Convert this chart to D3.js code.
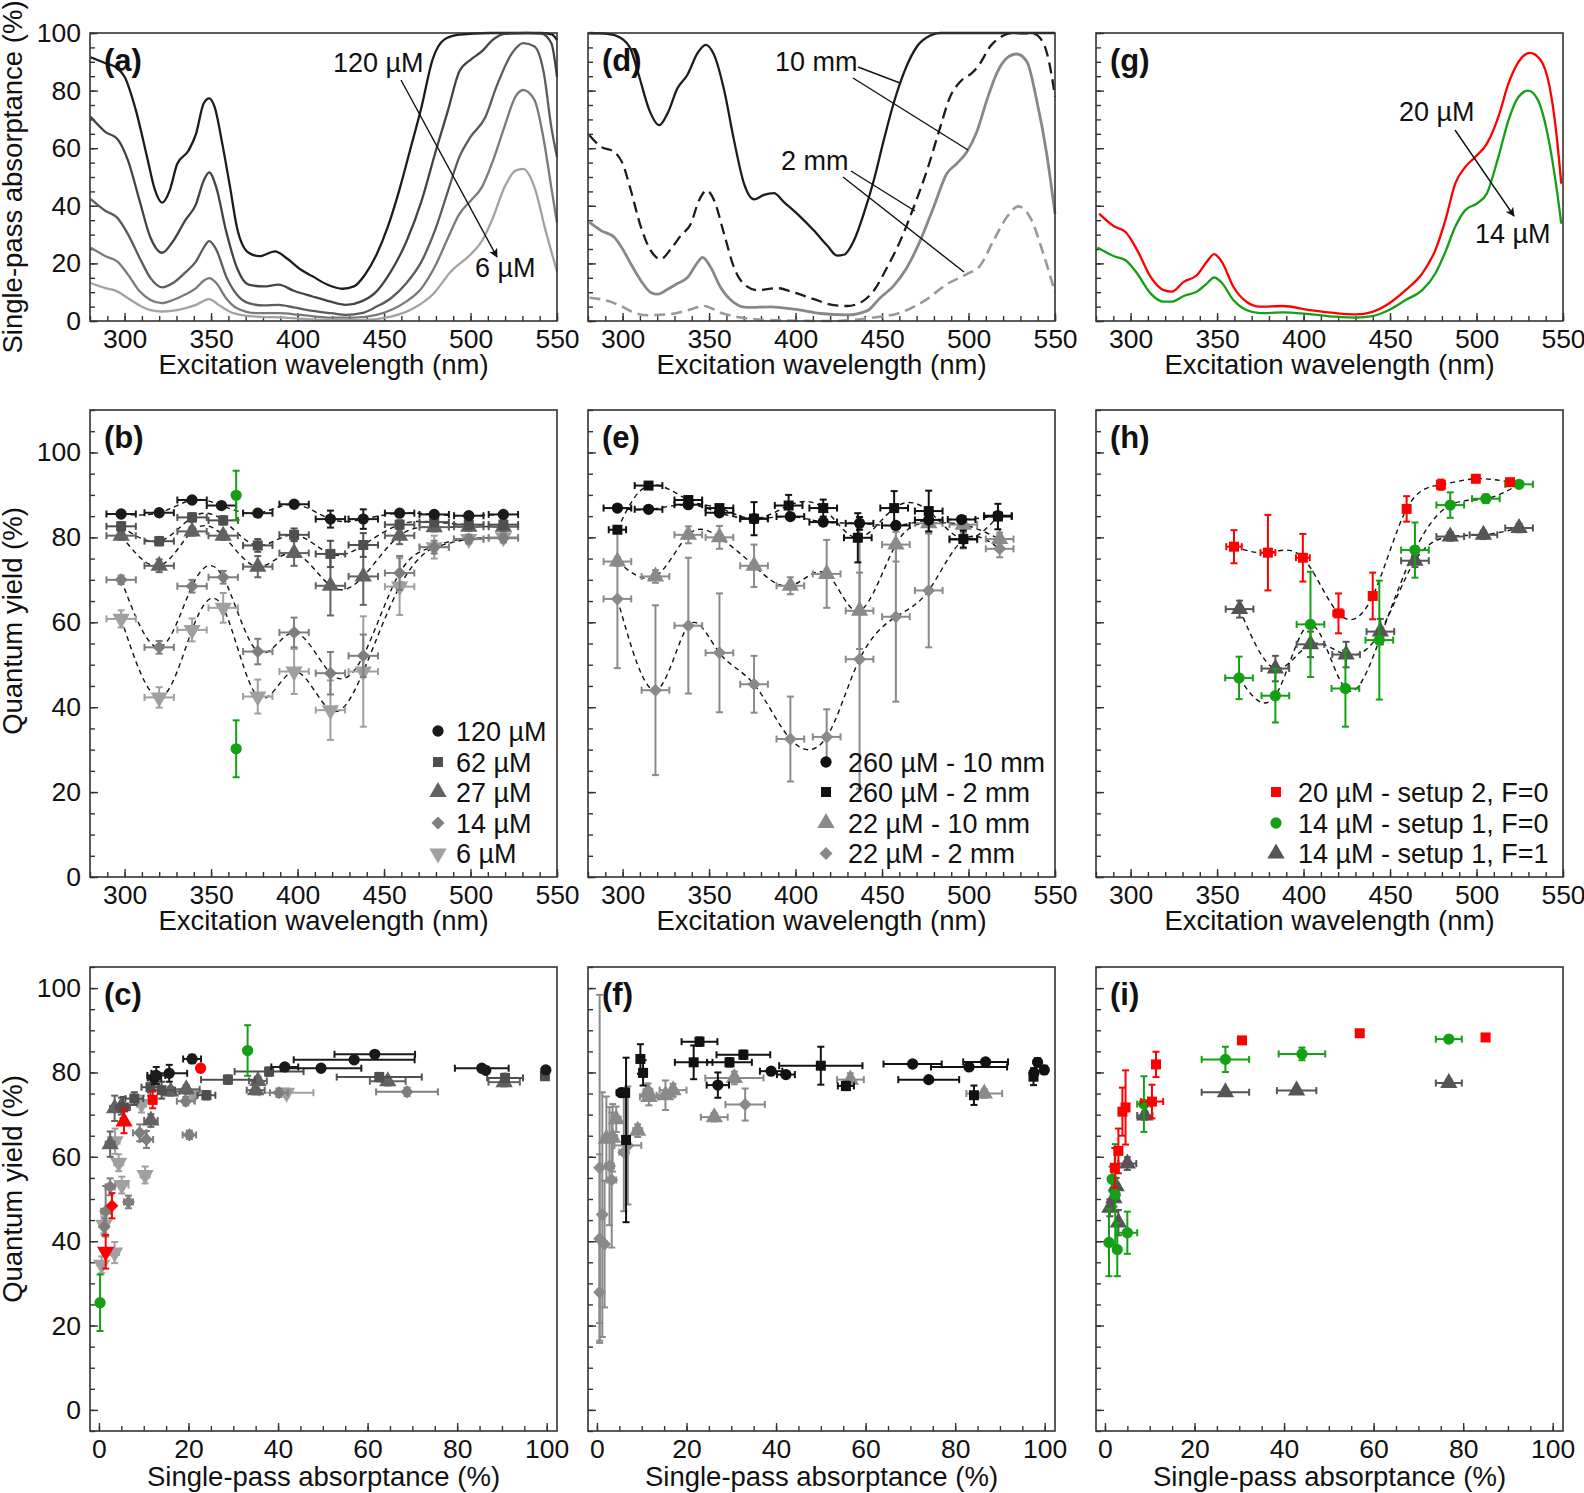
<!DOCTYPE html>
<html><head><meta charset="utf-8">
<script src="https://cdn.jsdelivr.net/npm/d3@7"></script>
<style>body{margin:0;background:#fff}svg{display:block}</style>
</head><body><svg id="c" width="1584" height="1493"></svg>
<script>
// ---------------- DATA ----------------
// ticks
const wlMajor=[300,350,400,450,500,550];
const wlMinor=[280,290,300,310,320,330,340,350,360,370,380,390,400,410,420,430,440,450,460,470,480,490,500,510,520,530,540,550];
const pctMajor=[0,20,40,60,80,100];
const absMinor=[0,5,10,15,20,25,30,35,40,45,50,55,60,65,70,75,80,85,90,95,100];
const qyMinor2=[0,5,10,15,20,25,30,35,40,45,50,55,60,65,70,75,80,85,90,95,100,105,110];
const qyMinor3=[-5,0,5,10,15,20,25,30,35,40,45,50,55,60,65,70,75,80,85,90,95,100,105];

// (a) absorptance spectra [nm, %]
const a120=[[280.4,91.6],[289,89.5],[295.7,87.8],[300,84.8],[306.5,73.2],[313,56.9],[317.4,45.8],[321.7,41.1],[326,45.2],[330.4,54.5],[337,59.2],[341.3,65.0],[345.7,75.5],[348.9,77.3],[352,74.4],[356.5,61.5],[361,46.4],[365,32.4],[371.7,23.7],[378,22.5],[387,24.2],[393.5,21.9],[402,17.8],[408.7,15.5],[417.4,12.6],[426,11.2],[432.6,12.0],[439,16.1],[445.7,23.1],[452,32.4],[458.7,45.2],[465,59.2],[471.7,74.4],[478,90.7],[484.8,97.7],[493.5,99.4],[511,100],[540,100],[547,99.5],[550,97.5]];
const a62=[[280.4,70.9],[289,65.6],[295.7,63.3],[302,55.7],[308.7,41.7],[315,28.9],[321.7,23.7],[328,27.7],[334.8,34.7],[341.3,40.6],[345.7,48.7],[348.9,51.6],[353,46.4],[358.7,31.2],[365,18.4],[371.7,12.6],[380.4,12.0],[389,12.6],[397.8,10.5],[408.7,8.5],[417.4,7.0],[428,5.6],[437,6.8],[445.7,10.3],[454,17.2],[463,27.7],[471.7,41.7],[480,59.2],[487,73.2],[493.5,86.6],[500,90.7],[506.5,93.6],[513,97.7],[519.6,99.7],[532.6,100],[541,99.8],[546.7,96.5],[550,84.8]];
const a27=[[280.4,42.3],[289,38.2],[295.7,35.9],[302,30.1],[308.7,21.9],[315,14.9],[321.7,11.7],[328,13.2],[334.8,16.7],[341.3,20.7],[345.7,25.4],[348.9,27.7],[353,24.8],[358.7,15.5],[365,9.1],[371.7,6.2],[380.4,5.4],[389,5.6],[397.8,4.7],[408.7,3.5],[419.6,2.7],[428,2.1],[437,2.7],[445.7,5.0],[454,7.9],[463,13.2],[471.7,20.7],[480,32.4],[487,45.2],[493.5,56.9],[500,63.9],[508.7,70.9],[515,81.4],[524,93.0],[530.4,96.5],[537,95.3],[542.4,86.0],[546.7,67.4],[550,56.9]];
const a14=[[280.4,25.4],[289,22.5],[295.7,20.7],[302,16.1],[308.7,10.3],[315,7.3],[321.7,6.2],[328,7.3],[334.8,9.1],[341.3,11.4],[345.7,14.0],[348.9,14.9],[353,13.2],[358.7,7.9],[365,4.4],[376,2.7],[389,2.7],[402,2.1],[419.6,1.2],[432.6,1.2],[445.7,2.1],[454,3.8],[463,6.8],[471.7,11.4],[480,19.6],[487,28.9],[493.5,37.1],[500,41.7],[506.5,46.4],[513,55.7],[519.6,67.4],[526,77.9],[530.4,80.2],[537,76.7],[542.4,62.7],[546.7,46.4],[550,34.1]];
const a6=[[280.4,13.2],[289,11.4],[295.7,10.3],[302,7.9],[308.7,5.4],[315,3.8],[321.7,3.3],[330.4,3.8],[341.3,5.6],[348.9,7.6],[354.3,5.6],[363,2.7],[376,1.5],[393,1.2],[415,0.3],[437,0.3],[454,1.5],[467,4.4],[478,9.1],[488.7,17.2],[500,23.1],[506.5,27.7],[513,35.9],[519.6,46.4],[526,52.2],[530.4,52.8],[537,46.4],[543.5,31.2],[550,17.2]];

// (d) absorptance spectra, 260 µM / 22 µM, 10 mm / 2 mm
const d260_10=[[280.8,100],[291.3,99.7],[299,98.3],[304.8,94.2],[309.6,84.9],[315.4,73.3],[321.2,68.0],[326,72.1],[331.7,80.8],[337.5,85.5],[343.3,93.0],[348.1,95.9],[352.9,92.4],[358.7,80.2],[364.4,62.8],[370.2,47.7],[376,42.2],[381.7,43.8],[387.5,44.4],[393.3,41.3],[401,37.2],[410.6,31.4],[418.3,26.2],[424,22.7],[427.9,23.0],[433.7,27.9],[439.4,37.2],[445.2,48.8],[451,62.8],[456.7,75.6],[462.5,86.0],[470.2,95.3],[477.9,99.1],[483.7,100],[550,100]];
const d260_2=[[280.8,64.5],[287.5,60.5],[295.2,58.7],[300,54.7],[304.8,45.3],[310.6,32.6],[316.3,24.4],[322.1,21.5],[327.9,25.0],[333.7,29.7],[339.4,33.7],[344.2,41.9],[348.7,45.3],[352.9,41.9],[358.7,30.2],[364.4,18.6],[370.2,12.8],[377.9,10.7],[389.4,11.4],[399,9.9],[410.6,7.6],[422.1,5.5],[429.8,5.2],[437.5,6.4],[445.2,10.5],[452.9,18.6],[460.6,27.9],[468.3,39.5],[476,52.3],[483.7,67.4],[489.4,77.9],[495.2,83.1],[502.9,86.6],[506.7,89.5],[512.5,95.3],[520.2,99.1],[526,100],[537.5,99.7],[543.3,96.5],[547.1,88.4],[550,77.9]];
const d22_10=[[280.8,34.3],[287.5,31.4],[295.2,29.1],[300,25.0],[304.8,19.8],[310.6,14.0],[316.3,9.9],[320.2,9.3],[326,11.0],[331.7,13.0],[337.5,15.1],[343.3,20.3],[346.2,22.1],[351,18.6],[356.7,11.6],[364.4,6.4],[372.1,4.7],[385.6,4.9],[399,4.1],[414.4,2.6],[429.8,2.1],[441.3,3.5],[449,8.1],[456.7,12.2],[464.4,18.6],[472.1,27.9],[479.8,39.5],[487.5,51.2],[493.3,54.7],[499,58.7],[504.8,65.7],[510.6,76.7],[516.3,86.0],[522.1,91.3],[527.9,92.7],[533.7,90.1],[539.4,76.7],[545.2,58.1],[550,37.2]];
const d22_2=[[280.8,8.1],[291.3,7.0],[299,5.2],[306.7,2.9],[314.4,2.0],[326,2.3],[337.5,3.7],[347.1,5.2],[356.7,2.9],[368.3,1.2],[391.3,0.2],[422.1,0],[445.2,1.2],[460.6,2.9],[476,7.6],[487.5,12.8],[499,16.3],[506.7,19.2],[514.4,27.9],[522.1,36.0],[528.8,39.8],[535.6,36.0],[543.3,23.3],[550,9.9]];

// (g) absorptance spectra, 20 µM and 14 µM
const g20=[[281.8,37.3],[290.4,32.9],[297.1,30.9],[303.8,24.6],[311.5,15.4],[319.2,10.7],[323.9,10.2],[330.7,13.6],[338.3,15.9],[344.1,20.6],[348.3,23.2],[352.7,20.6],[359.4,11.9],[367,6.7],[374.7,5.0],[388.1,5.2],[403.4,3.8],[418.8,2.7],[430.3,2.3],[439.8,3.2],[449.4,6.1],[459,10.7],[468.6,16.5],[476.2,24.6],[482,35.0],[487.7,47.7],[493.5,53.5],[499.2,56.9],[505.9,61.5],[512.6,70.8],[518.4,82.3],[524.1,89.8],[530.8,93.1],[536.6,91.0],[542.3,81.2],[546.2,65.0],[549,47.7]];
const g14=[[280.8,25.5],[290.4,22.5],[297.1,21.1],[303.8,16.5],[311.5,9.6],[319.2,6.7],[323.9,6.7],[330.7,8.7],[338.3,10.2],[344.1,13.0],[348.3,15.1],[352.7,13.3],[359.4,7.3],[367,3.8],[374.7,2.7],[388.1,3.0],[403.4,2.4],[418.8,1.5],[430.3,1.2],[439.8,1.7],[449.4,3.8],[459,7.3],[468.6,10.7],[476.2,16.5],[482,24.0],[487.7,32.7],[493.5,38.5],[500.2,40.8],[505.9,44.2],[512.6,56.9],[518.4,69.6],[524.1,77.7],[529.9,80.0],[535.6,76.6],[541.4,63.9],[546.2,46.5],[549,33.8]];

// (b) quantum yield vs wavelength [nm, QY, xerr, yerr]
const b120=[[298,85.5,8.5,0.6],[320,85.8,8.5,0.6],[339,88.8,8.5,0.6],[356,87.5,8.5,0.6],[377,85.7,8.5,0.6],[398,87.8,8.5,0.6],[419,84.3,8.5,2],[438,84.3,8.5,2.3],[459,85.7,8.5,0.6],[479,85.4,8.5,0.6],[499,85.1,8.5,0.6],[519,85.4,8.5,0.6]];
const b62=[[298,82.6,8.5,1],[320,79.1,8.5,1],[339,84.7,8.5,1],[357,84.0,8.5,1],[377,78.1,8.5,1.5],[398,80.6,8.5,1.5],[419,76.1,8.5,3.1],[438,78.2,8.5,2.8],[459,83.0,8.5,1],[479,83.6,8.5,1],[499,83.0,8.5,1],[519,83.0,8.5,1]];
const b27=[[298,80.4,8.5,1],[320,73.3,8.5,1.5],[339,81.4,8.5,1],[357,80.4,8.5,1],[377,73.1,8.5,2.5],[398,76.3,8.5,3],[419,68.6,8.5,7],[438,70.8,8.5,6.7],[459,80.4,8.5,2],[479,82.4,8.5,1],[499,82.5,8.5,1],[519,82.5,8.5,1]];
const b14=[[298,70.0,8.5,1],[320,54.1,8.5,1.5],[339,68.5,8.5,1.5],[357,70.6,8.5,1.5],[377,53.1,8.5,3],[398,57.6,8.5,3.5],[419,48.0,8.5,5],[438,52.1,8.5,5],[459,71.6,8.5,4],[479,77.7,8.5,1.5],[499,79.6,8.5,1],[519,79.8,8.5,1]];
const b6=[[298,60.8,8.5,2],[320,42.3,8.5,2.4],[339,58.2,8.5,2.7],[357,63.4,8.5,3.5],[377,42.5,8.5,4],[398,48.4,8.5,5.3],[419,39.3,8.5,7],[438,48.4,8.5,13],[459,68.4,8.5,6.7],[479,77.7,8.5,2.7],[499,79.6,8.5,1],[519,80.0,8.5,1]];
const bGreen=[[364.5,89.9,0,5.8],[364.5,30.2,0,6.7]];
const bLabels=['120 µM','62 µM','27 µM','14 µM','6 µM'];

// (e)
const e260_10=[[297,86.9,8,0.6],[315,86.6,8,0.6],[338,87.7,8,0.6],[356,85.8,8,0.6],[376,84.4,8,0.6],[397,84.9,8,0.6],[416,83.6,8,0.8],[437,83.3,8,1.5],[458,82.8,8,0.8],[477,84.1,8,0.8],[496,84.2,8,0.8],[517,85.1,8,0.8]];
const e260_2=[[297,81.8,5,0.6],[315,92.2,8,0.6],[338,88.8,8,0.6],[356,86.9,8,0.6],[376,84.4,8,3.9],[396,87.5,8,2.5],[416,86.9,8,2],[436,79.9,8,5.8],[457,86.9,8,4],[477,86.2,8,4.8],[497,79.6,8,2],[517,84.9,8,3]];
const e22_10=[[297,74.3,8,1],[319,70.8,8,1.5],[338,80.6,8,2],[356,80.0,8,2.7],[376,73.3,8,5],[397,68.6,8,2],[418,71.4,8,8],[437,62.7,8,9],[458,78.3,8,4],[477,83.3,8,2],[497,83.0,8,2],[518,79.6,8,1.5]];
const e22_2=[[297,65.5,8,16.3],[319,44.0,8,20],[338,59.2,8,16],[356,52.8,8,14],[376,45.4,8,6.7],[397,32.5,8,10],[418,33.0,8,6.5],[437,51.3,8,30.5],[458,61.3,8,20],[477,67.5,8,13.4],[497,79.4,8,2],[518,77.3,8,2]];
const eLabels=['260 µM - 10 mm','260 µM - 2 mm','22 µM - 10 mm','22 µM - 2 mm'];

// (h)
const h20=[[359.8,77.8,4.5,3.9],[379.4,76.4,4.3,8.9],[399.6,75.2,4,5.6],[420.2,62.1,3,4.7],[440,66.2,2,5.5],[459.6,86.7,2,3],[479.4,92.4,2,1.2],[499.6,93.8,2,0.8],[519.4,93.0,2,0.6]];
const h14F0=[[362.7,46.9,8,5],[383.7,42.7,8,6.3],[404,59.5,8,12.4],[424.2,44.4,8,9],[443.8,55.8,8,14],[464.4,77.0,8,6.5],[484.8,87.6,8,3],[505.4,89.1,8,1],[524.6,92.5,8,0.6]];
const h14F1=[[363,63.1,8,2],[383.7,49.1,8,3],[404,54.8,8,3],[424.6,52.4,8,3],[444.4,57.8,8,3],[464.4,74.5,8,1.5],[484.8,80.2,8,1],[504,80.6,8,1],[524.6,82.2,8,1]];
const hLabels=['20 µM - setup 2, F=0','14 µM - setup 1, F=0','14 µM - setup 1, F=1'];

// (c) QY vs absorptance [abs, QY, xerr, yerr]
const c120=[[99.8,80.6,0,0.6],[85.5,81.0,6,0.6],[86.4,80.5,0,0.6],[61.6,84.3,9,0.6],[57.0,83.0,13.5,0.6],[49.6,81.0,9,0.6],[41.5,81.3,3,0.6],[20.8,83.2,2,1],[15.7,79.8,4,2],[12.8,79.3,2,2],[12.4,78.7,1.5,1.5]];
const c62=[[99.6,79.1,0,0.6],[90.7,78.7,4,1],[62.6,78.9,9.5,1],[38.0,80.2,7.7,1],[28.8,78.3,6,1],[24.0,74.6,2,1],[11.5,76.5,2,2],[14.0,75.8,3,2],[7.9,73.8,2,1.5],[5.4,71.7,1.5,2.5]];
const c27=[[90.5,77.7,3.5,1],[64.5,77.9,4,1],[35.5,78.0,2,1],[35.0,75.8,2,1],[19.5,76.0,3,1],[16.0,75.5,2,1],[11.6,68.6,1.5,1.5],[5.0,72.0,1.5,2],[3.5,71.5,1,3],[2.5,63.0,1,3]];
const c14=[[68.8,75.4,6.9,1],[40.2,75.2,2,1],[20.2,65.2,1.5,1],[19.4,73.2,2,1],[10.6,64.1,1.5,2],[9.1,65.7,1.5,2],[6.6,49.3,1,1.5],[2.5,52.9,1,2],[1.5,47.1,1,6],[1.2,43.4,0.5,2]];
const c6=[[41.9,75.2,6,1],[21.2,74.8,2,1],[9.5,72.5,1,2],[10.3,55.7,1,2],[5.1,53.3,1.5,2],[4.4,58.6,1,2],[3.6,63.7,1,3],[3.5,37.3,1,2.5],[0.6,34.4,0.5,2],[1.1,43.9,1,2]];
const cRed=[[22.7,81.0,0,0.8],[12.0,73.5,0,2],[5.6,68.4,0,2.8],[2.9,48.4,0,3],[1.5,37.5,0,4]];
const cGreen=[[0.25,25.4,0,6.7],[33.2,85.2,0,6]];

// (f)
const f260_10=[[97.6,79.9,0,1],[99.9,80.6,0,1],[98.4,82.4,0,1],[86.8,82.5,5,0.6],[83.1,81.3,8.5,0.6],[74.1,78.3,6.8,0.6],[70.5,82.0,6.5,0.6],[42.2,79.5,2,0.6],[38.9,80.3,2.5,0.6],[27.0,77.0,2.5,3],[5.4,75.2,1,0.6]];
const f260_2=[[22.9,87.3,4,1],[32.7,84.2,6,1],[29.6,82.4,5,1],[21.6,82.4,4.2,4],[50.0,81.6,9.3,4.5],[9.7,83.2,0.5,3.5],[10.3,79.9,0.5,3],[6.5,64.0,0.5,19.5],[6.3,75.2,0.5,1],[55.6,76.8,1.8,1],[84.2,74.6,0.5,2.3],[97.5,79.0,0,2]];
const f22_10=[[56.6,78.3,3,1.5],[86.5,75.0,4,1],[30.7,78.7,6.5,1.5],[26.2,69.4,3,1],[17.0,75.8,3,1.5],[15.3,74.6,2,3.5],[11.6,74.2,2,2],[11.4,75.4,1,2],[9.1,66.2,1,1.5],[4.3,68.9,1,3],[2.1,64.3,1,10],[3.5,64.5,1,8]];
const f22_2=[[33.1,72.4,4.4,3.8],[6.9,62.7,3,14],[6.0,61.1,1,14],[3.3,54.5,1,16],[2.8,57.8,1,14],[0.6,57.4,0.5,41],[1.2,46.3,0.5,29],[0.6,40.6,0.5,20],[1.7,39.3,0.5,15],[0.6,27.9,0.5,12]];

// (i)
const i20=[[56.9,89.3,0.5,0.6],[85.0,88.3,0.8,0.6],[30.6,87.6,0.8,0.8],[11.4,81.9,0.3,3],[10.5,73.1,2.5,4],[4.6,71.7,0.3,8.8],[3.9,70.7,0.3,5.7],[3.0,61.4,0.3,5.3],[2.2,57.4,0.3,4.7]];
const i14F0=[[76.8,87.9,2.9,0.8],[44.0,84.4,5.2,1.5],[26.9,83.1,5.3,3],[8.7,72.5,1.5,6.6],[5.0,42.0,2.2,5],[2.75,38.0,0.3,6.3],[0.9,39.7,0.3,8],[1.6,54.7,0.3,3],[2.3,51.0,0.3,12]];
const i14F1=[[76.8,77.5,2.9,0.8],[42.8,75.7,4.4,0.8],[26.9,75.3,5.3,0.8],[8.9,69.8,1.7,1],[5.0,58.4,2,1.5],[2.5,53.0,0.3,2],[2.0,50.2,0.3,2],[1.1,47.9,0.3,2],[3.0,44.4,0.3,3]];

// ---------------- DRAWING ----------------
const FONT='"Liberation Sans", Arial, Helvetica, sans-serif';
const svg=d3.select('#c').attr('font-family',FONT);
const cols=[90,588,1096], colW=467;
const rows=[{top:33,h:288},{top:410,h:467},{top:967,h:464}];

const shapes={
  circle:{p:d3.symbol().type(d3.symbolCircle).size(100)(),r:''},
  square:{p:d3.symbol().type(d3.symbolSquare).size(100)(),r:''},
  triangle:{p:d3.symbol().type(d3.symbolTriangle).size(130)(),r:''},
  diamond:{p:d3.symbol().type(d3.symbolSquare).size(85)(),r:' rotate(45)'},
  tdown:{p:d3.symbol().type(d3.symbolTriangle).size(130)(),r:' rotate(180)'}
};

function makePanel(ci,ri,xd,yd,xMaj,xMin,yMaj,yMin,showY,label){
  const L=cols[ci],T=rows[ri].top,Hh=rows[ri].h;
  const x=d3.scaleLinear().domain(xd).range([L,L+colW]);
  const y=d3.scaleLinear().domain(yd).range([T+Hh,T]);
  const g=svg.append('g');
  const ax=g.append('g');
  ax.append('g').attr('transform',`translate(0,${T+Hh})`).call(d3.axisBottom(x).tickValues(xMin).tickSize(-5).tickFormat(''));
  ax.append('g').attr('transform',`translate(0,${T+Hh})`).call(d3.axisBottom(x).tickValues(xMaj).tickSize(-8).tickPadding(8).tickFormat(d3.format('d')));
  ax.append('g').attr('transform',`translate(${L},0)`).call(d3.axisLeft(y).tickValues(yMin).tickSize(-5).tickFormat(''));
  ax.append('g').attr('transform',`translate(${L},0)`).call(d3.axisLeft(y).tickValues(yMaj).tickSize(-8).tickPadding(9).tickFormat(showY?d3.format('d'):()=>''));
  ax.selectAll('.domain').remove();
  ax.selectAll('.tick line').attr('stroke','#333').attr('stroke-width',1.4);
  ax.selectAll('.tick text').attr('font-size',26.5).attr('fill','#111').attr('font-family',FONT);
  const plot=g.append('g');
  g.append('rect').attr('x',L).attr('y',T).attr('width',colW).attr('height',Hh)
    .attr('fill','none').attr('stroke','#333').attr('stroke-width',1.6);
  g.append('text').attr('x',L+14).attr('y',T+38).attr('font-size',31).attr('font-weight','bold').attr('fill','#111').text(label);
  return {x,y,plot,g,L,T,H:Hh};
}

function curve(p,data,color,width,dash,cv){
  p.plot.append('path').datum(data)
    .attr('d',d3.line().x(d=>p.x(d[0])).y(d=>p.y(d[1])).curve(cv||d3.curveMonotoneX))
    .attr('fill','none').attr('stroke',color).attr('stroke-width',width)
    .attr('stroke-dasharray',dash||null).attr('stroke-linejoin','round');
}
function errs(p,data,color){
  const g=p.plot.append('g').attr('stroke',color).attr('stroke-width',2);
  const c=3.5;
  data.forEach(d=>{
    const cx=p.x(d[0]),cy=p.y(d[1]);
    if(d[2]>0){
      const x1=p.x(d[0]-d[2]),x2=p.x(d[0]+d[2]);
      g.append('line').attr('x1',x1).attr('x2',x2).attr('y1',cy).attr('y2',cy);
      g.append('line').attr('x1',x1).attr('x2',x1).attr('y1',cy-c).attr('y2',cy+c);
      g.append('line').attr('x1',x2).attr('x2',x2).attr('y1',cy-c).attr('y2',cy+c);
    }
    if(d[3]>0){
      const y1=p.y(d[1]-d[3]),y2=p.y(d[1]+d[3]);
      g.append('line').attr('x1',cx).attr('x2',cx).attr('y1',y1).attr('y2',y2);
      g.append('line').attr('x1',cx-c).attr('x2',cx+c).attr('y1',y1).attr('y2',y1);
      g.append('line').attr('x1',cx-c).attr('x2',cx+c).attr('y1',y2).attr('y2',y2);
    }
  });
}
function pts(p,data,shape,color){
  const s=shapes[shape];
  p.plot.append('g').selectAll('path').data(data).join('path')
    .attr('d',s.p).attr('fill',color)
    .attr('transform',d=>`translate(${p.x(d[0])},${p.y(d[1])})${s.r}`);
}
function series(p,data,shape,color){errs(p,data,color);pts(p,data,shape,color);}
function legend(p,items,sx,tx,ys){
  items.forEach((it,i)=>{
    const s=shapes[it.shape];
    p.g.append('path').attr('d',s.p).attr('fill',it.color).attr('transform',`translate(${sx},${ys[i]})${s.r}`);
    p.g.append('text').attr('x',tx).attr('y',ys[i]+9.7).attr('font-size',27).attr('fill','#111').text(it.label);
  });
}
function txt(t,x,y,size,anchor){svg.append('text').attr('x',x).attr('y',y).attr('font-size',size||27).attr('fill','#111').attr('text-anchor',anchor||'start').text(t);}
function ln(x1,y1,x2,y2,arrow){
  const l=svg.append('line').attr('x1',x1).attr('y1',y1).attr('x2',x2).attr('y2',y2).attr('stroke','#111').attr('stroke-width',1.4);
  if(arrow) l.attr('marker-end','url(#arr)');
}
svg.append('defs').append('marker').attr('id','arr').attr('viewBox','0 0 10 10').attr('refX',9).attr('refY',5)
  .attr('markerWidth',9).attr('markerHeight',9).attr('markerUnits','userSpaceOnUse').attr('orient','auto')
  .append('path').attr('d','M0,0 L10,5 L0,10 L2.5,5 Z').attr('fill','#111');

const gray5=['#1a1a1a','#4f4f4f','#626262','#7e7e7e','#a0a0a0'];
const lineGray=['#1c1c1c','#444444','#5c5c5c','#7a7a7a','#a2a2a2'];
const RED='#ff0000', GREEN='#14a014', DG='#555555';
const shp5=['circle','square','triangle','diamond','tdown'];

// Row 1
const pa=makePanel(0,0,[280,550],[0,100],wlMajor,wlMinor,pctMajor,absMinor,true,'(a)');
[a120,a62,a27,a14,a6].forEach((d,i)=>curve(pa,d,lineGray[i],2.3));
const pd=makePanel(1,0,[280,550],[0,100],wlMajor,wlMinor,pctMajor,absMinor,false,'(d)');
curve(pd,d260_10,'#1c1c1c',2.3);
curve(pd,d260_2,'#1c1c1c',2.3,'11,6');
curve(pd,d22_10,'#888888',2.8);
curve(pd,d22_2,'#999999',2.6,'11,6');
const pg=makePanel(2,0,[280,550],[0,100],wlMajor,wlMinor,pctMajor,absMinor,false,'(g)');
curve(pg,g20,RED,2.3);
curve(pg,g14,GREEN,2.3);

// annotations row 1
txt('120 µM',333,72);
ln(401,80,497,257,true);
txt('6 µM',475,277);
txt('10 mm',775,71);
ln(858,67,900,83);
ln(853,78,968,150);
txt('2 mm',781,169.5);
ln(851,171,915,211);
ln(843,177,964,272);
txt('20 µM',1399,121);
ln(1455,130,1514,216,true);
txt('14 µM',1475,242.5);

// Row 2
const pb=makePanel(0,1,[280,550],[0,110],wlMajor,wlMinor,pctMajor,qyMinor2,true,'(b)');
const bSets=[b120,b62,b27,b14,b6];
bSets.forEach(d=>curve(pb,d,'#111',1.4,'5,4',d3.curveNatural));
for(let i=bSets.length-1;i>=0;i--) series(pb,bSets[i],shp5[i],gray5[i]);
series(pb,bGreen,'circle',GREEN);
legend(pb,bLabels.map((l,i)=>({label:l,shape:shp5[i],color:gray5[i]})),438,456,[731,762,792,823,853.5]);

const pe=makePanel(1,1,[280,550],[0,110],wlMajor,wlMinor,pctMajor,qyMinor2,false,'(e)');
const eSets=[e260_10,e260_2,e22_10,e22_2];
const eShapes=['circle','square','triangle','diamond'];
const eCols=['#111111','#111111','#8a8a8a','#8a8a8a'];
eSets.forEach(d=>curve(pe,d,'#111',1.4,'5,4',d3.curveNatural));
[3,2,1,0].forEach(i=>series(pe,eSets[i],eShapes[i],eCols[i]));
legend(pe,eLabels.map((l,i)=>({label:l,shape:eShapes[i],color:eCols[i]})),826,848,[762,792,823,853.5]);

const ph=makePanel(2,1,[280,550],[0,110],wlMajor,wlMinor,pctMajor,qyMinor2,false,'(h)');
const hSets=[h20,h14F0,h14F1];
const hShapes=['square','circle','triangle'];
const hCols=[RED,GREEN,DG];
hSets.forEach(d=>curve(ph,d,'#111',1.4,'5,4',d3.curveNatural));
[2,1,0].forEach(i=>series(ph,hSets[i],hShapes[i],hCols[i]));
legend(ph,hLabels.map((l,i)=>({label:l,shape:hShapes[i],color:hCols[i]})),1276,1298,[792,823,853.5]);

// Row 3
const absDom=[-2,102.3];
const pc=makePanel(0,2,absDom,[-5,105],pctMajor,absMinor,pctMajor,qyMinor3,true,'(c)');
const cSets=[c120,c62,c27,c14,c6];
for(let i=cSets.length-1;i>=0;i--) series(pc,cSets[i],shp5[i],gray5[i]);
cRed.forEach((d,i)=>series(pc,[d],shp5[i],RED));
series(pc,cGreen,'circle',GREEN);

const pf=makePanel(1,2,absDom,[-5,105],pctMajor,absMinor,pctMajor,qyMinor3,false,'(f)');
const fSets=[f260_10,f260_2,f22_10,f22_2];
[3,2,1,0].forEach(i=>series(pf,fSets[i],eShapes[i],eCols[i]));

const pi=makePanel(2,2,absDom,[-5,105],pctMajor,absMinor,pctMajor,qyMinor3,false,'(i)');
const iSets=[i20,i14F0,i14F1];
[2,1,0].forEach(i=>series(pi,iSets[i],hShapes[i],hCols[i]));

// Axis titles
const xt1='Excitation wavelength (nm)', xt3='Single-pass absorptance (%)';
cols.forEach(L=>{
  txt(xt1,L+colW/2,374,27.5,'middle');
  txt(xt1,L+colW/2,930,27.5,'middle');
  txt(xt3,L+colW/2,1486,27.5,'middle');
});
function ytitle(t,cx,cy){
  svg.append('text').attr('transform',`translate(${cx},${cy}) rotate(-90)`).attr('text-anchor','middle')
    .attr('dy','0.35em').attr('font-size',27.5).attr('fill','#111').text(t);
}
ytitle('Single-pass absorptance (%)',12,177);
ytitle('Quantum yield (%)',12,621);
ytitle('Quantum yield (%)',12,1189);
</script>
</body></html>
